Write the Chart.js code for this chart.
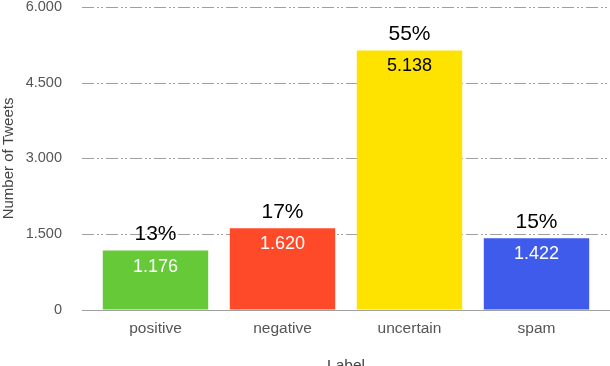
<!DOCTYPE html>
<html>
<head>
<meta charset="utf-8">
<script src="https://cdn.jsdelivr.net/npm/chart.js@4/dist/chart.umd.min.js"></script>
<style>
  html, body { margin: 0; padding: 0; background: #fff; }
  #wrap { width: 610px; height: 366px; }
</style>
</head>
<body>
<div id="wrap"><canvas id="c" width="610" height="366"></canvas></div>
<script>
const categories = ['positive', 'negative', 'uncertain', 'spam'];
const tweetCounts = [1176, 1620, 5138, 1422];
const shareLabels = ['13%', '17%', '55%', '15%'];
const barColors = ['#66C937', '#FF4A2A', '#FFE300', '#3F5BEB'];
const valueTextColors = ['#ffffff', '#ffffff', '#000000', '#ffffff'];
const yTicks = [0, 1500, 3000, 4500, 6000];

const fmt = v => String(v).replace(/\B(?=(\d{3})+(?!\d))/g, '.');
const FONT = '"Liberation Sans", Arial, Helvetica, sans-serif';

const gridPlugin = {
  id: 'gridPlugin',
  beforeDatasetsDraw(chart) {
    const ctx = chart.ctx, y = chart.scales.y, area = chart.chartArea;
    ctx.save();
    ctx.strokeStyle = '#a0a0a0';
    ctx.lineWidth = 1;
    yTicks.forEach(t => {
      const py = Math.round(y.getPixelForValue(t)) + 0.5;
      ctx.setLineDash(t === 0 ? [] : [12, 3, 2, 2, 2, 3]);
      ctx.beginPath();
      ctx.moveTo(area.left - 10, py);
      ctx.lineTo(chart.width, py);
      ctx.stroke();
    });
    ctx.restore();
  }
};

const labelPlugin = {
  id: 'labelPlugin',
  afterDatasetsDraw(chart) {
    const ctx = chart.ctx;
    const meta = chart.getDatasetMeta(0);
    ctx.save();
    ctx.textAlign = 'center';
    ctx.textBaseline = 'middle';
    meta.data.forEach((bar, i) => {
      ctx.fillStyle = '#000';
      ctx.font = '21px ' + FONT;
      ctx.fillText(shareLabels[i], bar.x, bar.y - 16);
      ctx.fillStyle = valueTextColors[i];
      ctx.font = '18px ' + FONT;
      ctx.fillText(fmt(tweetCounts[i]), bar.x, bar.y + 16);
    });
    ctx.restore();
  }
};

new Chart(document.getElementById('c'), {
  type: 'bar',
  data: {
    labels: categories,
    datasets: [{
      data: tweetCounts,
      backgroundColor: barColors,
      borderWidth: 0,
      categoryPercentage: 1,
      barPercentage: 0.83
    }]
  },
  options: {
    responsive: false,
    animation: false,
    devicePixelRatio: 1,
    layout: { padding: { top: 0, right: 10, left: 0, bottom: 0 } },
    plugins: { legend: { display: false }, tooltip: { enabled: false } },
    scales: {
      x: {
        grid: { display: false, drawTicks: false },
        border: { display: false },
        ticks: { color: '#555', font: { family: FONT, size: 15.5 }, padding: 9 },
        title: { display: true, text: 'Label', color: '#444', font: { family: FONT, size: 15.5 }, padding: { top: 0, bottom: -9 } },
        afterFit(s) { s.height = 56; }
      },
      y: {
        min: 0, max: 6000,
        afterBuildTicks(s) { s.ticks = yTicks.map(v => ({ value: v })); },
        grid: { display: true, drawOnChartArea: false, drawTicks: true, tickLength: 30, color: 'rgba(0,0,0,0)', tickColor: 'rgba(0,0,0,0)' },
        border: { display: false },
        ticks: { color: '#555', font: { family: FONT, size: 14.5, lineHeight: 0.95 }, padding: 0, callback: v => fmt(v) },
        title: { display: true, text: 'Number of Tweets', color: '#444', font: { family: FONT, size: 15 }, padding: { top: 0, bottom: 0 } },
        afterFit(s) { s.width = 92; }
      }
    }
  },
  plugins: [gridPlugin, labelPlugin]
});
</script>
</body>
</html>
